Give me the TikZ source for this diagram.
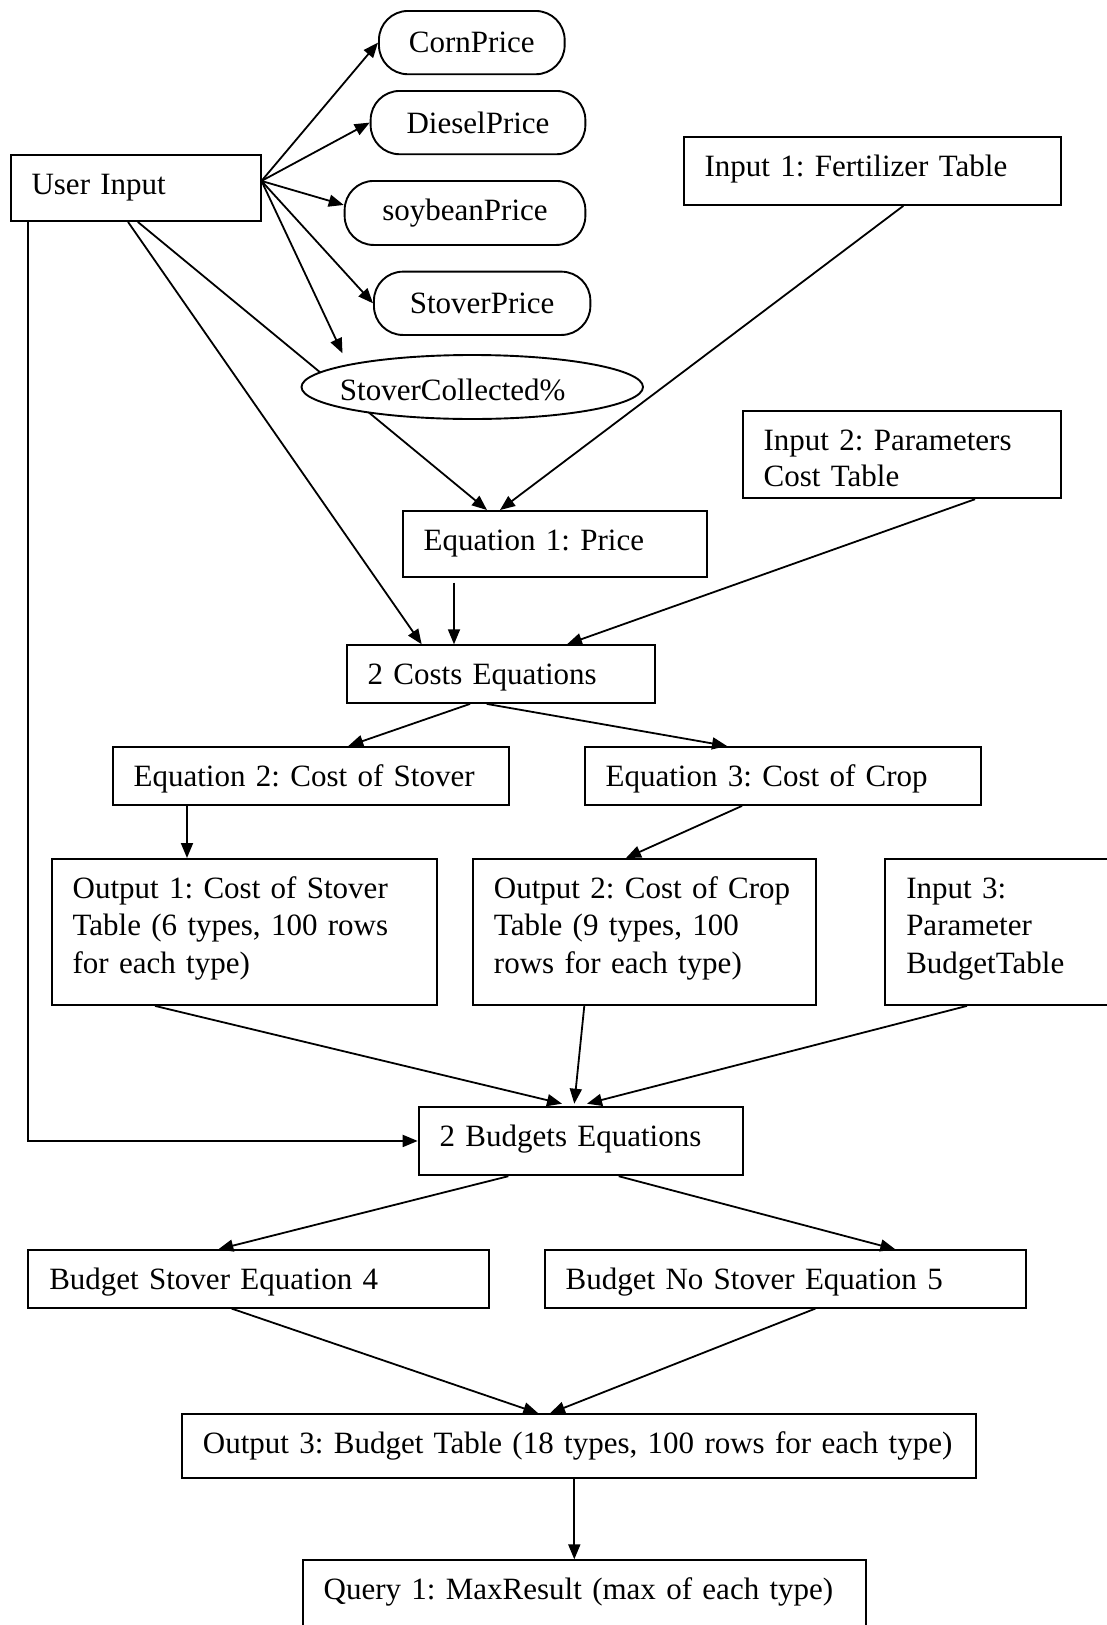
\documentclass[tikz,border=0pt]{standalone}
\usepackage{fontspec}
\setmainfont{Liberation Serif}
\usetikzlibrary{arrows.meta,shapes.geometric}
\frenchspacing
\begin{document}
\begin{tikzpicture}[x=1pt,y=-1pt,
  every node/.style={font=\fontsize{31pt}{37.3pt}\selectfont\frenchspacing},
  box/.style={draw, line width=1.9pt, anchor=north west, align=left, inner xsep=21pt, inner ysep=0pt, text height=39.5pt},
  pill/.style={draw, line width=1.9pt, rounded corners=29pt, anchor=north west, inner sep=0pt, align=center},
  arr/.style={line width=1.8pt, -{Triangle[length=15pt,width=12pt]}}]
\fill[white] (0,0) rectangle (1106,1625);
\useasboundingbox (0,0) rectangle (1106,1625);

% nodes
\node[box, text width=208pt, text depth=26.5pt] (ui) at (9.6,154) {User Input};
\node[pill, minimum width=185.7pt, minimum height=63.3pt] (corn) at (378,10) {CornPrice};
\node[pill, minimum width=214.7pt, minimum height=63.3pt] (diesel) at (369.7,90) {DieselPrice};
\node[pill, minimum width=240.7pt, minimum height=64pt] (soy) at (343.7,180) {soybeanPrice};
\node[pill, minimum width=216.4pt, minimum height=63.3pt] (stprice) at (373,270.7) {StoverPrice};
\node[box, text width=335.3pt, text depth=28.8pt] (in1) at (682.7,135.7) {\mbox{Input 1: Fertilizer Table}};
\node[box, text width=276.3pt, text depth=47.8pt, font=\fontsize{31pt}{36.3pt}\selectfont\frenchspacing] (in2) at (741.7,410) {\mbox{Input 2: Parameters}\\Cost Table};
\node[box, text width=262.3pt, text depth=26.2pt] (eq1) at (401.7,510) {\mbox{Equation 1: Price}};
\node[box, text width=266.3pt, text depth=18.2pt] (costs) at (345.7,644.3) {\mbox{2 Costs Equations}};
\node[box, text width=354.6pt, text depth=18.5pt] (eq2) at (111.7,746) {\mbox{Equation 2: Cost of Stover}};
\node[box, text width=354.6pt, text depth=18.5pt] (eq3) at (583.7,746) {\mbox{Equation 3: Cost of Crop}};
\node[box, text width=343.3pt, text depth=106.5pt] (out1) at (50.7,858) {\mbox{Output 1: Cost of Stover}\\\mbox{Table (6 types, 100 rows}\\\mbox{for each type)}};
\node[box, text width=301.3pt, text depth=106.5pt] (out2) at (472,858) {\mbox{Output 2: Cost of Crop}\\\mbox{Table (9 types, 100}\\\mbox{rows for each type)}};
\node[box, text width=181pt, text depth=106.5pt] (in3) at (884.3,858) {Input 3:\\Parameter\\BudgetTable};
\node[box, text width=282.3pt, text depth=29.1pt] (budgets) at (417.7,1105.7) {\mbox{2 Budgets Equations}};
\node[box, text width=419pt, text depth=17.9pt] (bs4) at (27.3,1249.3) {\mbox{Budget Stover Equation 4}};
\node[box, text width=439.6pt, text depth=17.9pt] (bns5) at (543.7,1249.3) {\mbox{Budget No Stover Equation 5}};
\node[box, text width=752pt, text depth=24.5pt] (out3) at (181,1413.3) {\mbox{Output 3: Budget Table (18 types, 100 rows for each type)}};
\node[box, text width=521pt, text depth=50pt] (query) at (301.7,1559.3) {\mbox{Query 1: MaxResult (max of each type)}};

% line passing under the StoverCollected% oval
\draw[arr] ([xshift=128.2pt]ui.south west) -- ([xshift=85.3pt]eq1.north west);

\node[draw, line width=1.9pt, fill=white, ellipse, minimum width=341.5pt, minimum height=64pt, inner sep=0pt, text height=27pt, text depth=0pt] (stcoll) at (472.25,387) {\makebox[0pt]{StoverCollected\%\kern39pt}};

% connectors
\draw[arr] ([yshift=7pt]ui.east) -- (corn.west);
\draw[arr] ([yshift=7pt]ui.east) -- (diesel.west);
\draw[arr] ([yshift=7pt]ui.east) -- ([yshift=8pt]soy.west);
\draw[arr] ([yshift=7pt]ui.east) -- (stprice.west);
\draw[arr] ([yshift=7pt]ui.east) -- ([xshift=-129.75pt,yshift=33.7pt]stcoll.center);
\draw[arr] ([xshift=118.4pt]ui.south west) -- ([xshift=76pt]costs.north west);
\draw[arr] ([xshift=18.1pt]ui.south west) |- (budgets.west);
\draw[arr] ([xshift=220.6pt]in1.south west) -- ([xshift=98.3pt]eq1.north west);
\draw[arr] ([xshift=52.3pt,yshift=-5pt]eq1.south west) -- ([xshift=108.3pt]costs.north west);
\draw[arr] ([xshift=233.3pt]in2.south west) -- ([xshift=221.3pt]costs.north west);
\draw[arr] ([xshift=124.3pt]costs.south west) -- ([xshift=236.6pt]eq2.north west);
\draw[arr] ([xshift=141pt]costs.south west) -- ([xshift=143.3pt]eq3.north west);
\draw[arr] ([xshift=75.3pt]eq2.south west) -- ([xshift=136.3pt]out1.north west);
\draw[arr] ([xshift=158.3pt]eq3.south west) -- ([xshift=154pt]out2.north west);
\draw[arr] ([xshift=104.3pt]out1.south west) -- ([xshift=144.3pt,yshift=2pt]budgets.north west);
\draw[arr] ([xshift=112.3pt]out2.south west) -- ([xshift=156.6pt,yshift=2pt]budgets.north west);
\draw[arr] ([xshift=82.7pt]in3.south west) -- ([xshift=169.3pt,yshift=2pt]budgets.north west);
\draw[arr] ([xshift=90.6pt]budgets.south west) -- ([xshift=191pt]bs4.north west);
\draw[arr] ([xshift=201pt]budgets.south west) -- ([xshift=351.6pt]bns5.north west);
\draw[arr] ([xshift=204.4pt]bs4.south west) -- ([xshift=357.3pt]out3.north west);
\draw[arr] ([xshift=271.6pt]bns5.south west) -- ([xshift=369pt]out3.north west);
\draw[arr] ([xshift=393.3pt]out3.south west) -- ([xshift=272.6pt]query.north west);
\end{tikzpicture}
\end{document}
